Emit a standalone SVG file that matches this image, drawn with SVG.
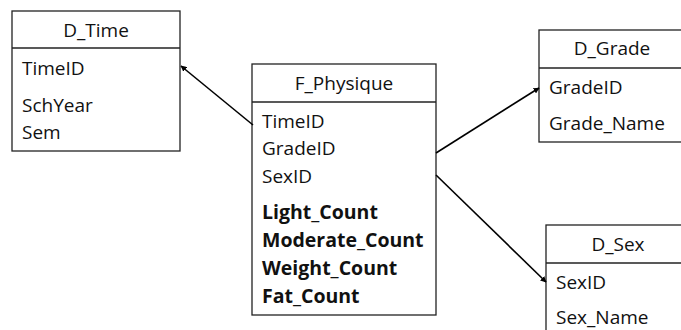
<svg xmlns="http://www.w3.org/2000/svg" width="681" height="330" viewBox="0 0 681 330">
  <style>
    .box { fill: #ffffff; stroke: #222222; stroke-width: 1.3; }
    .sep { stroke: #222222; stroke-width: 1.3; }
    text { font-family: "Open Sans", "Liberation Sans", sans-serif; font-size: 19px; fill: #111111; }
    .title { text-anchor: middle; }
    .b { font-weight: bold; font-size: 19.5px; }
    .conn { stroke: #000000; stroke-width: 1.6; fill: none; marker-end: url(#arrow); }
  </style>
  <defs>
    <marker id="arrow" viewBox="0 0 10 10" refX="9" refY="5" markerWidth="6" markerHeight="6" orient="auto" markerUnits="userSpaceOnUse">
      <path d="M0,0 L10,5 L0,10 Z" fill="#000000"/>
    </marker>
  </defs>
  <rect width="681" height="330" fill="#ffffff"/>

  <g id="D_Time">
    <rect class="box" x="12" y="11" width="168" height="140"/>
    <line class="sep" x1="12" y1="48" x2="180" y2="48"/>
    <text class="title" x="96" y="37">D_Time</text>
    <text x="22" y="75">TimeID</text>
    <text x="22" y="112">SchYear</text>
    <text x="22" y="139">Sem</text>
  </g>

  <g id="F_Physique">
    <rect class="box" x="252" y="64" width="184" height="251"/>
    <line class="sep" x1="252" y1="102" x2="436" y2="102"/>
    <text class="title" x="344" y="90">F_Physique</text>
    <text x="262" y="128">TimeID</text>
    <text x="262" y="155">GradeID</text>
    <text x="262" y="183">SexID</text>
    <text class="b" x="262" y="219">Light_Count</text>
    <text class="b" x="262" y="247">Moderate_Count</text>
    <text class="b" x="262" y="275">Weight_Count</text>
    <text class="b" x="262" y="303">Fat_Count</text>
  </g>

  <g id="D_Grade">
    <rect class="box" x="539" y="30" width="150" height="112"/>
    <line class="sep" x1="539" y1="68" x2="689" y2="68"/>
    <text class="title" x="612" y="55">D_Grade</text>
    <text x="549" y="94">GradeID</text>
    <text x="549" y="130">Grade_Name</text>
  </g>

  <g id="D_Sex">
    <rect class="box" x="546" y="225" width="150" height="120"/>
    <line class="sep" x1="546" y1="263" x2="696" y2="263"/>
    <text class="title" x="618" y="251">D_Sex</text>
    <text x="556" y="289">SexID</text>
    <text x="556" y="324">Sex_Name</text>
  </g>

  <g id="connectors">
    <line class="conn" x1="253" y1="125" x2="181" y2="66"/>
    <line class="conn" x1="436" y1="153" x2="539" y2="88"/>
    <line class="conn" x1="436" y1="175" x2="546" y2="282"/>
  </g>
</svg>
